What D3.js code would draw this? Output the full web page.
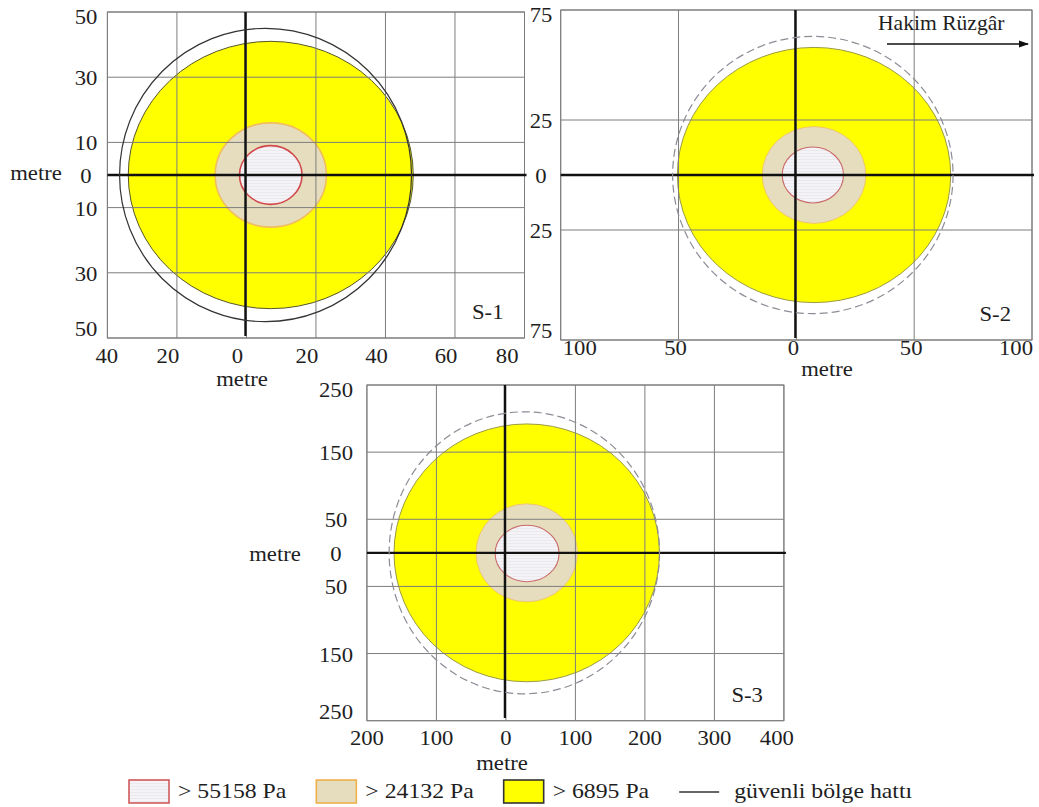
<!DOCTYPE html>
<html>
<head>
<meta charset="utf-8">
<script src="https://cdn.jsdelivr.net/npm/d3@7"></script>
<style>
  body { margin: 0; background: #fff; }
  svg { display: block; }
  text { font-family: "Liberation Serif", "Times New Roman", serif; fill: #1e1e1e; }
</style>
</head>
<body>
<svg id="chart" width="1039" height="807"></svg>
<script>
// Scenario names
const scenarioNames = ["S-1", "S-2", "S-3"];

// Axis tick values in metres (labels show distance without sign)
const xTicksS1 = [-40, -20, 0, 20, 40, 60, 80];
const yTicksS1 = [50, 30, 10, 0, -10, -30, -50];
const xTicksS2 = [-100, -50, 0, 50, 100];
const yTicksS2 = [75, 25, 0, -25, -75];
const xTicksS3 = [-200, -100, 0, 100, 200, 300, 400];
const yTicksS3 = [250, 150, 50, 0, -50, -150, -250];

// Overpressure zones per scenario: [centre x, centre y, radius x, radius y] in metres
const zone55158 = [[7, 0, 9, 9], [7, 0, 13, 12.7], [30.5, -1, 46, 42]];
const zone24132 = [[7, 0, 16, 16], [7.5, 0, 22, 22], [30, 0, 73, 73]];
const zone6895  = [[7, 0, 41, 41], [7.5, 0, 58, 58], [30, 0, 191, 192]];
// Safe-zone boundary per scenario
const safeLine  = [[5.5, 0, 42, 45], [7, 0, 59.5, 63], [26.5, 0, 194.5, 210]];

const legendLabels = ["> 55158 Pa", "> 24132 Pa", "> 6895 Pa", "güvenli bölge hattı"];
const windLabel = "Hakim Rüzgâr";
const axisTitle = "metre";

// ---- layout ----
const svg = d3.select("#chart");
const FONT = 21, SX = 1.08;

const defs = svg.append("defs");
const pat = defs.append("pattern").attr("id", "stripes")
  .attr("patternUnits", "userSpaceOnUse").attr("width", 6).attr("height", 3);
pat.append("rect").attr("width", 6).attr("height", 3).attr("fill", "#f4f3f6");
pat.append("line").attr("x1", 0).attr("x2", 6).attr("y1", 0.5).attr("y2", 0.5)
  .attr("stroke", "#ebe8ef").attr("stroke-width", 1);
defs.append("marker").attr("id", "arrow").attr("viewBox", "0 0 10 10")
  .attr("refX", 9).attr("refY", 5).attr("markerWidth", 7).attr("markerHeight", 7)
  .attr("orient", "auto").append("path").attr("d", "M0,1.5L10,5L0,8.5Z").attr("fill", "#111");

function label(g, x, y, str, anchor, size = FONT) {
  return g.append("text")
    .attr("transform", `translate(${x},${y}) scale(${SX},1)`)
    .attr("text-anchor", anchor).attr("font-size", size).text(str);
}

const panels = [
  { box: [107.4, 524.5, 12, 338], xd: [-40, 80], yd: [-50, 50], xt: xTicksS1, yt: yTicksS1,
    shift: -9, minL: -12, maxR: -6, xlDy: 25, yLabX: 86, yTitle: [36, 180],
    xTitle: [242, 48], dash: null, safeColor: "#333", vAxisEnd: 336 },
  { box: [560.7, 1032, 10, 340], xd: [-100, 100], yd: [-75, 75], xt: xTicksS2, yt: yTicksS2,
    shift: -3, minL: 2, maxR: 1, xlDy: 15, yLabX: 541, yTitle: null,
    xTitle: [827, 36], dash: "8,4", safeColor: "#8c8c96", vAxisEnd: 338 },
  { box: [366.9, 783.9, 385, 720.7], xd: [-200, 400], yd: [-250, 250], xt: xTicksS3, yt: yTicksS3,
    shift: 0, minL: -17, maxR: 10, xlDy: 24, yLabX: 336, yTitle: [275, 561],
    xTitle: [502, 49], dash: "8,4", safeColor: "#8c8c96", vAxisEnd: 718 }
];

const fmt = v => String(Math.abs(v));

panels.forEach((p, i) => {
  const [x0, x1, y0, y1] = p.box;
  const x = d3.scaleLinear().domain(p.xd).range([x0, x1]);
  const y = d3.scaleLinear().domain(p.yd).range([y1, y0]);
  const g = svg.append("g");

  const ell = (sel, d) => sel
    .attr("cx", x(d[0])).attr("cy", y(d[1]))
    .attr("rx", Math.abs(x(d[2]) - x(0))).attr("ry", Math.abs(y(d[3]) - y(0)));

  // pressure zones, outermost first
  g.append("ellipse").call(ell, zone6895[i])
    .attr("fill", "#ffff00").attr("stroke", i === 0 ? "#55552a" : "#9a9a45").attr("stroke-width", 1);
  g.append("ellipse").call(ell, zone24132[i])
    .attr("fill", "#e6ddbf").attr("stroke", "#f0bd62").attr("stroke-width", i === 0 ? 1.6 : 0.8);
  g.append("ellipse").call(ell, zone55158[i])
    .attr("fill", "url(#stripes)").attr("stroke", i === 0 ? "#d2484a" : "#c96a6a")
    .attr("stroke-width", i === 0 ? 1.6 : 1.1);

  // grid
  g.append("g").selectAll("line.v").data(p.xt).join("line")
    .attr("x1", d => x(d)).attr("x2", d => x(d)).attr("y1", y0).attr("y2", y1)
    .attr("stroke", "#7d7d7d").attr("stroke-width", 1);
  g.append("g").selectAll("line.h").data(p.yt.filter(d => d !== 0)).join("line")
    .attr("y1", d => y(d)).attr("y2", d => y(d)).attr("x1", x0).attr("x2", x1)
    .attr("stroke", "#7d7d7d").attr("stroke-width", 1);
  g.append("rect").attr("x", x0).attr("y", y0).attr("width", x1 - x0).attr("height", y1 - y0)
    .attr("fill", "none").attr("stroke", "#7d7d7d").attr("stroke-width", 1);

  // main axes through the source
  g.append("line").attr("x1", x(0) - 1).attr("x2", x(0) - 1).attr("y1", y0).attr("y2", p.vAxisEnd)
    .attr("stroke", "#111").attr("stroke-width", 2.3);
  g.append("line").attr("x1", x0).attr("x2", x1 + 2).attr("y1", y(0)).attr("y2", y(0))
    .attr("stroke", "#111").attr("stroke-width", 2.3);

  // safe-zone boundary
  g.append("ellipse").call(ell, safeLine[i])
    .attr("fill", "none").attr("stroke", p.safeColor).attr("stroke-width", 1.2)
    .attr("stroke-dasharray", p.dash);

  // x tick labels
  p.xt.forEach(v => {
    const t = label(g, 0, 0, fmt(v), "middle");
    const w = t.node().getBBox().width * SX;
    let cx = x(v) + p.shift;
    if (cx - w / 2 < x0 + p.minL) cx = x0 + p.minL + w / 2;
    if (cx + w / 2 > x1 + p.maxR) cx = x1 + p.maxR - w / 2;
    t.attr("transform", `translate(${cx},${y1 + p.xlDy}) scale(${SX},1)`);
  });
  // y tick labels
  p.yt.forEach((v, k) => {
    let by = y(v) + 8;
    if (k === 0) by = y0 + 12;
    if (k === p.yt.length - 1) by = y1 - 2;
    label(g, p.yLabX, by, fmt(v), "middle");
  });

  // axis titles
  label(g, p.xTitle[0], y1 + p.xTitle[1], axisTitle, "middle");
  if (p.yTitle) label(g, p.yTitle[0], p.yTitle[1], axisTitle, "middle");

  // scenario tag
  label(g, x1 - 21, y1 - 19, scenarioNames[i], "end");
});

// prevailing wind
label(svg, 878, 30, windLabel, "start", 20);
svg.append("line").attr("x1", 887).attr("x2", 1028).attr("y1", 44).attr("y2", 44)
  .attr("stroke", "#111").attr("stroke-width", 1.5).attr("marker-end", "url(#arrow)");

// legend
const legendStyles = [
  { fill: "url(#stripes)", stroke: "#d0595c" },
  { fill: "#e6ddbf", stroke: "#eeb04a" },
  { fill: "#ffff00", stroke: "#333" },
  null
];
let lx = 129;
const ly = 780, LS = 22;
legendLabels.forEach((txt, k) => {
  const st = legendStyles[k];
  if (st) {
    svg.append("rect").attr("x", lx).attr("y", ly).attr("width", 40).attr("height", 23)
      .attr("fill", st.fill).attr("stroke", st.stroke).attr("stroke-width", 1.6);
  } else {
    svg.append("line").attr("x1", lx).attr("x2", lx + 40).attr("y1", ly + 12).attr("y2", ly + 12)
      .attr("stroke", "#333").attr("stroke-width", 1.4);
  }
  const tx = lx + (st ? 49 : 55);
  const t = label(svg, tx, ly + 18, txt, "start", LS);
  lx = tx + t.node().getBBox().width * SX + 30;
});
</script>
</body>
</html>
